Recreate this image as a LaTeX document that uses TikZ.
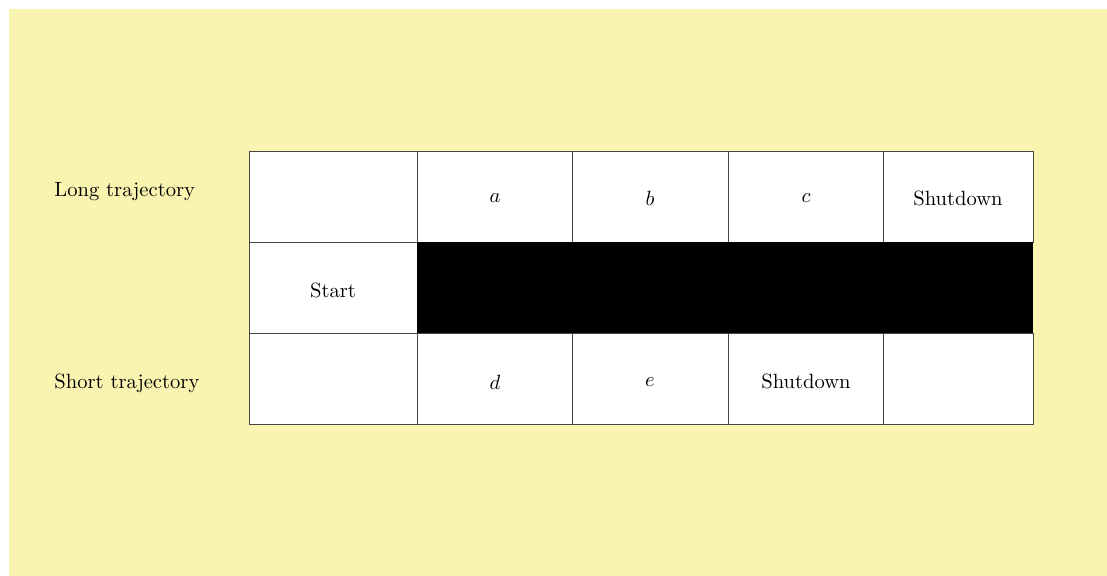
\documentclass[tikz,border=0pt]{standalone}
\usepackage{tikz}
\definecolor{bgyellow}{RGB}{249,245,177}
\definecolor{gridline}{RGB}{70,70,70}
\begin{document}
\begin{tikzpicture}[x=0.4854pt,y=-0.4854pt,
  cellbox/.style={draw=gridline,fill=white,line width=0.4pt},
  lbl/.style={anchor=west,inner sep=0pt},
  celltext/.style={inner sep=0pt}]
\useasboundingbox (0,0) rectangle (1107,576);
\fill[white] (0,0) rectangle (1107,576);
\fill[bgyellow] (9,9) rectangle (1107,576);
% row 1
\draw[cellbox] (249,151) rectangle (417,242);
\draw[cellbox] (417,151) rectangle (572,242);
\draw[cellbox] (572,151) rectangle (728,242);
\draw[cellbox] (728,151) rectangle (883,242);
\draw[cellbox] (883,151) rectangle (1033,242);
% row 2
\draw[cellbox] (249,242) rectangle (417,333);
\fill[black] (417,242) rectangle (1033,333);
% row 3
\draw[cellbox] (249,333) rectangle (417,424);
\draw[cellbox] (417,333) rectangle (572,424);
\draw[cellbox] (572,333) rectangle (728,424);
\draw[cellbox] (728,333) rectangle (883,424);
\draw[cellbox] (883,333) rectangle (1033,424);
% texts
\node[lbl] (long) at (54,192) {Long trajectory};
\node[lbl] (short) at (54,383) {Short trajectory};
\node[celltext] (a) at (495,198) {$a$};
\node[celltext] (b) at (650,198) {$b$};
\node[celltext] (c) at (806,198) {$c$};
\node[celltext] (s1) at (958,198) {Shutdown};
\node[celltext] (start) at (333,290) {Start};
\node[celltext] (d) at (495,382) {$d$};
\node[celltext] (e) at (650,382) {$e$};
\node[celltext] (s2) at (806,381) {Shutdown};
\end{tikzpicture}
\end{document}
